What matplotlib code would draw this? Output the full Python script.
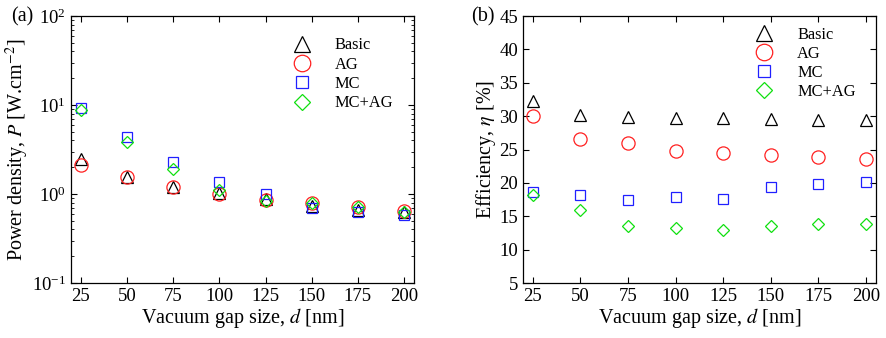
import numpy as np
import matplotlib
matplotlib.use("Agg")
import matplotlib.pyplot as plt

plt.rcParams['font.family'] = 'Liberation Serif'
plt.rcParams['mathtext.fontset'] = 'stix'

# data
gap = [25, 50, 75, 100, 125, 150, 175, 200]
power_basic = [2.5, 1.57, 1.21, 1.03, 0.87, 0.74, 0.66, 0.63]
power_ag = [2.12, 1.54, 1.19, 1.0, 0.86, 0.80, 0.72, 0.65]
power_mc = [9.3, 4.4, 2.27, 1.38, 0.99, 0.69, 0.62, 0.58]
power_mcag = [8.8, 3.87, 1.91, 1.12, 0.83, 0.79, 0.71, 0.63]

eff_basic = [32.3, 30.15, 29.9, 29.7, 29.65, 29.55, 29.45, 29.4]
eff_ag = [29.95, 26.55, 25.95, 24.8, 24.55, 24.25, 23.9, 23.6]
eff_mc = [18.65, 18.2, 17.45, 17.9, 17.55, 19.4, 19.9, 20.1]
eff_mcag = [18.15, 15.95, 13.5, 13.25, 12.9, 13.6, 13.9, 13.8]

labels = ['Basic', 'AG', 'MC', 'MC+AG']
markers = ['^', 'o', 's', 'D']
colors = ['black', '#ff2020', '#2020ff', '#10e010']
msizes = [9, 9.5, 6.6, 6.2]

fig = plt.figure(figsize=(8.86, 3.38), dpi=100)
ax1 = fig.add_axes([0.0801, 0.1627, 0.3871, 0.7899])
ax2 = fig.add_axes([0.5903, 0.1627, 0.3984, 0.7899])

for ax, series in [(ax1, [power_basic, power_ag, power_mc, power_mcag]),
                   (ax2, [eff_basic, eff_ag, eff_mc, eff_mcag])]:
    for vals, lab, m, c, ms in zip(series, labels, markers, colors, msizes):
        ax.plot(gap, vals, linestyle='none', marker=m, mfc='none', mec=c,
                ms=ms, mew=0.9, label=lab)
    ax.set_xticks(gap)
    ax.tick_params(which='both', direction='in', top=True, right=True, labelsize=13.5)
    ax.tick_params(which='major', length=4)
    ax.tick_params(which='minor', length=2)
    ax.set_xlabel('Vacuum gap size, $d$ [nm]', fontsize=14.5, labelpad=1)
    for s in ax.spines.values():
        s.set_linewidth(0.9)

ax1.set_xlim(19.6, 205.4)
ax1.set_yscale('log')
ax1.set_ylim(0.1, 100)
ax1.set_ylabel('Power density, $P$ [W.cm$^{-2}$]', fontsize=14.5, labelpad=1)
ax1.legend(loc='upper right', frameon=False, fontsize=11.8, handletextpad=1.0,
           labelspacing=0.2, markerscale=1.25, bbox_to_anchor=(0.982, 0.975))

ax2.set_xlim(19.8, 205.3)
ax2.set_ylim(5, 45)
ax2.set_yticks(np.arange(5, 46, 5))
ax2.set_ylabel('Efficiency, $\\eta$ [%]', fontsize=14.5, labelpad=1)
ax2.legend(loc='upper right', frameon=False, fontsize=11.8, handletextpad=1.0,
           labelspacing=0.18, markerscale=1.25, bbox_to_anchor=(0.984, 1.015))

fig.text(0.012, 0.935, '(a)', fontsize=14.5)
fig.text(0.532, 0.935, '(b)', fontsize=14.5)

fig.savefig('out.png', dpi=100)
